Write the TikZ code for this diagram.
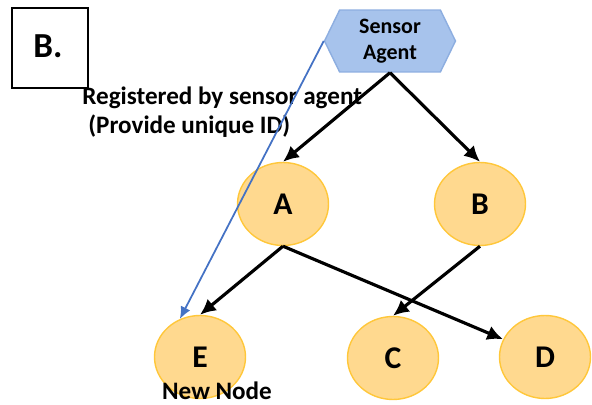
\documentclass[tikz,border=0pt]{standalone}
\usepackage{fontspec}
\setmainfont{Carlito}
\usetikzlibrary{shapes.geometric,shapes.symbols,arrows.meta}
\definecolor{nodefill}{HTML}{FFD98F}
\definecolor{nodeline}{HTML}{FFC73A}
\definecolor{agentfill}{HTML}{A7C3EC}
\definecolor{agentline}{HTML}{8DAEE0}
\definecolor{reglink}{HTML}{4472C4}
\begin{document}
\begin{tikzpicture}[x=0.02cm, y=-0.02cm, >={Latex[length=9pt,width=8.5pt]},
    peer/.style={ellipse, draw=nodeline, line width=0.8pt, fill=nodefill,
        minimum width=1.82cm, minimum height=1.66cm, font=\fontsize{18}{20}\selectfont\bfseries},
    link/.style={->, line width=1.8pt, black},
    note/.style={font=\fontsize{14.3}{16}\selectfont\bfseries, inner sep=0pt}]
\useasboundingbox (0,0) rectangle (592,405);
% label box
\node[draw, line width=0.8pt, minimum width=1.52cm, minimum height=1.6cm] (tag) at (50,48) {};
\node[font=\fontsize{20}{22}\selectfont\bfseries] (tagtext) at (48,46) {B.};
% sensor agent
\node[signal, signal to=west and east, signal pointer angle=128, draw=agentline,
    line width=0.8pt, fill=agentfill, minimum width=2.62cm, minimum height=1.24cm,
    inner sep=0pt, align=center, font=\fontsize{12.5}{14.5}\selectfont\bfseries] (agent) at (390,41) {Sensor\\Agent};
% nodes
\node[peer] (A) at (283,204) {A};
\node[peer] (B) at (480,204) {B};
\node[peer] (E) at (200,357) {E};
\node[peer] (C) at (393,358) {C};
\node[peer] (D) at (545,357) {D};
% texts
\node[note, anchor=west] (reg) at (82,98) {Registered by sensor agent};
\node[note, anchor=west] (uid) at (88,126) {(Provide unique ID)};
\node[note] (new) at (217,391) {New Node};
% links
\draw[link] (agent.south) -- (A.north);
\draw[link] (agent.south) -- (B.north);
\draw[link] (A.south) -- (E.north);
\draw[link] (A.south) -- (D);
\draw[link] (B.south) -- (C.north);
\draw[->, reglink, line width=1pt, >={Latex[length=7pt,width=6pt]}] (agent.west) -- (E.118);
\end{tikzpicture}
\end{document}
